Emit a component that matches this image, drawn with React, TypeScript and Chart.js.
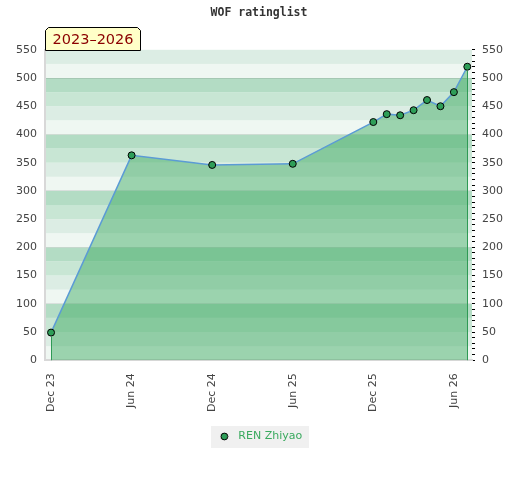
import React, { useEffect, useRef } from 'react';
import { Chart, registerables } from 'chart.js';

Chart.register(...registerables);

// ---- data ----
const chartTitle = 'WOF ratinglist';
const periodLabel = '2023–2026';
const playerName = 'REN Zhiyao';
// months counted from Dec 2023
const monthOffsets = [0, 6, 12, 18, 24, 25, 26, 27, 28, 29, 30, 31];
const ratings = [49, 363, 346, 348, 422, 436, 434, 443, 461, 450, 475, 520];
const xTickMonths = [0, 6, 12, 18, 24, 30];
const xTickLabels = ['Dec 23', 'Jun 24', 'Dec 24', 'Jun 25', 'Dec 25', 'Jun 26'];
const yMin = 0;
const yMax = 550;
const yLabelStep = 50;
const yMinorStep = 10;

// ---- styles ----
const bandColors = ['#eff7f2', '#dcede4', '#c8e6d4', '#b3dcc4'];
const tickColor = '#444';
const tickFont = { family: 'DejaVu Sans', size: 11 };

const bandsPlugin = {
  id: 'bands',
  beforeDraw(chart: any) {
    const { ctx, chartArea } = chart;
    const ys = chart.scales.y;
    if (!chartArea) return;
    const { left, right } = chartArea;
    ctx.save();
    for (let v = yMin; v < yMax; v += 25) {
      const idx = Math.floor((v % 100) / 25);
      const p1 = ys.getPixelForValue(v);
      const p2 = ys.getPixelForValue(v + 25);
      ctx.fillStyle = bandColors[idx];
      ctx.fillRect(left, p2, right - left, p1 - p2);
    }
    // legend background
    const hb = chart.legend && chart.legend.legendHitBoxes && chart.legend.legendHitBoxes[0];
    if (hb) {
      const cx = hb.left + hb.width / 2;
      const cy = hb.top + hb.height / 2;
      ctx.fillStyle = '#f0f0f0';
      ctx.fillRect(Math.round(cx - 48), Math.round(cy - 11), 98, 22);
    }
    ctx.restore();
  },
};

const dropLinesPlugin = {
  id: 'dropLines',
  afterDatasetsDraw(chart: any) {
    const { ctx, chartArea } = chart;
    const meta = chart.getDatasetMeta(0);
    if (!meta || !meta.data.length) return;
    const pts = [meta.data[0], meta.data[meta.data.length - 1]];
    ctx.save();
    ctx.strokeStyle = '#2f9a55';
    ctx.lineWidth = 1;
    for (const p of pts) {
      const x = Math.round(p.x) + 0.5;
      ctx.beginPath();
      ctx.moveTo(x, p.y + 4);
      ctx.lineTo(x, chartArea.bottom);
      ctx.stroke();
    }
    ctx.restore();
  },
};

const periodBoxPlugin = {
  id: 'periodBox',
  afterDraw(chart: any) {
    const { ctx, chartArea } = chart;
    const x0 = Math.round(chartArea.left) + 0.5;
    const y1 = Math.round(chartArea.top) + 0.5;
    const w = 95;
    const h = 23;
    const y0 = y1 - h;
    const c = 3;
    ctx.save();
    ctx.beginPath();
    ctx.moveTo(x0, y1);
    ctx.lineTo(x0, y0 + c);
    ctx.lineTo(x0 + c, y0);
    ctx.lineTo(x0 + w - c, y0);
    ctx.lineTo(x0 + w, y0 + c);
    ctx.lineTo(x0 + w, y1);
    ctx.closePath();
    ctx.fillStyle = '#ffffc8';
    ctx.fill();
    ctx.strokeStyle = '#000';
    ctx.lineWidth = 1;
    ctx.stroke();
    ctx.fillStyle = '#8b0000';
    ctx.font = '14.5px "DejaVu Sans"';
    ctx.textAlign = 'center';
    ctx.textBaseline = 'middle';
    ctx.fillText(periodLabel, x0 + w / 2, y0 + h / 2 + 1);
    ctx.restore();
  },
};

export default function App() {
  const ref = useRef<HTMLCanvasElement | null>(null);

  useEffect(() => {
    if (!ref.current) return;
    const dot = document.createElement('canvas');
    dot.width = 9;
    dot.height = 9;
    const dctx = dot.getContext('2d');
    if (dctx) {
      dctx.beginPath();
      dctx.arc(4.5, 4.5, 3.4, 0, Math.PI * 2);
      dctx.fillStyle = '#2e9e58';
      dctx.fill();
      dctx.strokeStyle = '#000';
      dctx.lineWidth = 1;
      dctx.stroke();
    }

    const chart = new Chart(ref.current, {
      type: 'line',
      data: {
        datasets: [
          {
            label: playerName,
            data: monthOffsets.map((m, i) => ({ x: m, y: ratings[i] })),
            borderColor: '#5b9bd5',
            borderWidth: 1.5,
            backgroundColor: 'rgba(54,167,91,0.45)',
            fill: 'origin',
            tension: 0,
            pointRadius: 3.5,
            pointBackgroundColor: '#2e9e58',
            pointBorderColor: '#000',
            pointBorderWidth: 1,
            yAxisID: 'y',
          },
        ],
      },
      options: {
        responsive: false,
        animation: false,
        devicePixelRatio: 1,
        layout: { padding: { left: 8, right: 10, top: 0, bottom: 28 } },
        plugins: {
          title: {
            display: true,
            text: chartTitle,
            color: '#333',
            font: { family: 'DejaVu Sans Mono', size: 11.5, weight: 'bold' },
            padding: { top: 6, bottom: 30 },
          },
          legend: {
            display: true,
            position: 'bottom',
            labels: {
              usePointStyle: true,
              pointStyle: dot as any,
              pointStyleWidth: 17,
              boxHeight: 9,
              color: '#3aaa5f',
              font: tickFont,
              padding: 6,
            },
          },
          tooltip: { enabled: false },
        },
        scales: {
          x: {
            type: 'linear',
            min: -0.45,
            max: 31.35,
            afterBuildTicks: (axis: any) => {
              axis.ticks = xTickMonths.map((v) => ({ value: v }));
            },
            ticks: {
              autoSkip: false,
              minRotation: 90,
              maxRotation: 90,
              padding: 13,
              color: tickColor,
              font: tickFont,
              callback: (v: any) => {
                const i = xTickMonths.indexOf(Number(v));
                return i >= 0 ? xTickLabels[i] : '';
              },
            },
            grid: { drawOnChartArea: false, drawTicks: false },
            border: { display: true, color: '#d8d8d8', width: 2 },
          },
          y: {
            type: 'linear',
            position: 'left',
            min: yMin,
            max: yMax,
            ticks: { stepSize: yLabelStep, padding: 8, color: tickColor, font: tickFont },
            grid: {
              drawTicks: false,
              color: (c: any) => (c.tick && c.tick.value % 100 === 0 ? 'rgba(0,0,0,0.09)' : 'rgba(0,0,0,0)'),
              lineWidth: 1,
            },
            border: { display: true, color: '#d8d8d8', width: 2 },
          },
          y2: {
            type: 'linear',
            position: 'right',
            min: yMin,
            max: yMax,
            ticks: {
              stepSize: yMinorStep,
              autoSkip: false,
              padding: 7,
              color: tickColor,
              font: tickFont,
              callback: (v: any) => (Number(v) % yLabelStep === 0 ? String(v) : ''),
            },
            grid: {
              drawOnChartArea: false,
              drawTicks: true,
              tickLength: 3,
              tickColor: '#000',
              tickWidth: 1,
            },
            border: { display: false },
          },
        },
      },
      plugins: [bandsPlugin, dropLinesPlugin, periodBoxPlugin],
    } as any);

    return () => chart.destroy();
  }, []);

  return (
    <div style={{ position: 'absolute', left: 0, top: 0, width: 520, height: 480, background: '#fff' }}>
      <canvas ref={ref} width={520} height={480} style={{ display: 'block' }} />
    </div>
  );
}
